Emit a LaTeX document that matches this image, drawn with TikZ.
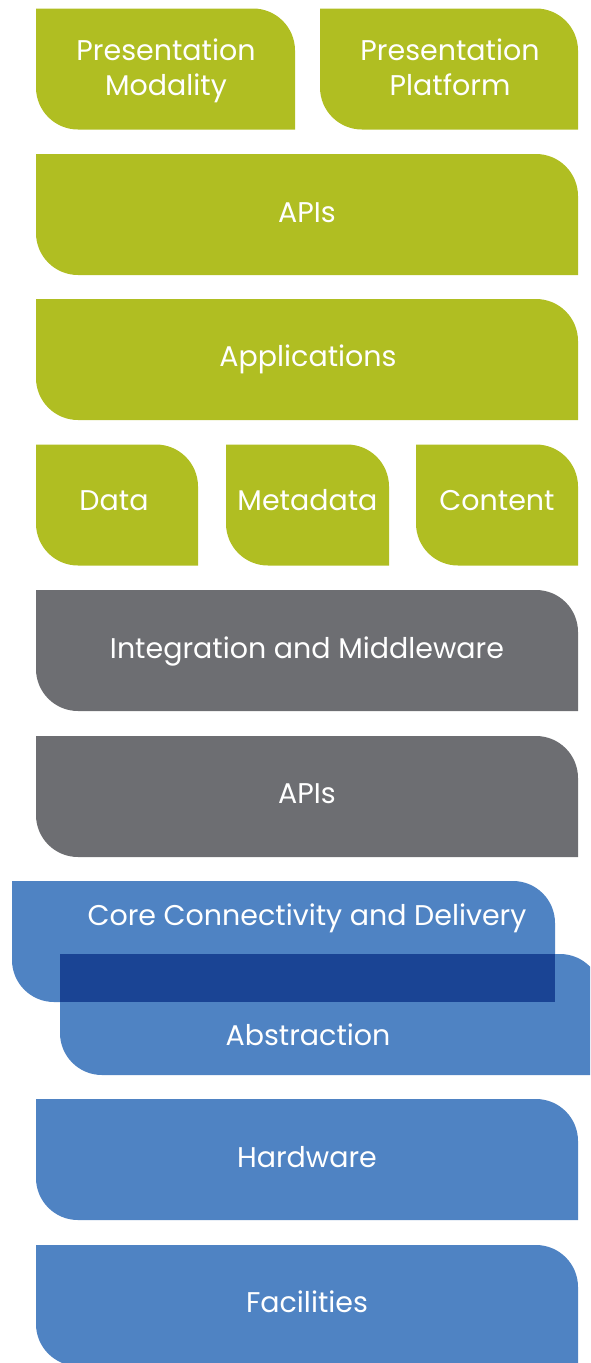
\documentclass[tikz,border=0pt]{standalone}
\usepackage{fontspec}
\setmainfont{Poppins}
\usepackage{tikz}

\definecolor{layergreen}{RGB}{176,190,34}
\definecolor{layergray}{RGB}{109,110,114}
\definecolor{layerblue}{RGB}{79,131,195}
\definecolor{layerdark}{RGB}{26,68,148}

\tikzset{
  layer/.style={shape=rectangle, inner sep=0pt, outer sep=0pt, minimum height=121pt,
    path picture={\fill[#1] (path picture bounding box.north west)
      -- ([xshift=-42pt]path picture bounding box.north east)
      arc[start angle=90, end angle=0, radius=42pt]
      -- (path picture bounding box.south east)
      -- ([xshift=42pt]path picture bounding box.south west)
      arc[start angle=270, end angle=180, radius=42pt] -- cycle;}},
  layertext/.style={anchor=base, align=center, text=white, inner sep=0pt,
    font=\fontsize{28.5}{35}\selectfont}
}

\begin{document}
\begin{tikzpicture}[x=1pt, y=-1pt]
    		\useasboundingbox (0,0) rectangle (590,1363);
    		\clip (0,0) rectangle (590,1363);
    		% Layers, top to bottom:
    		\node[layer=layergreen, minimum width=259pt](L1) at (165.5, 69){} node[layertext] at (166, 95){Presentation\\Modality};
    		\node[layer=layergreen, minimum width=258pt](L2) at (449, 69){} node[layertext] at (450, 95){Presentation\\Platform};
    		\node[layer=layergreen, minimum width=542pt](L3) at (307, 214.5){} node[layertext] at (307, 222){APIs};
    		\node[layer=layergreen, minimum width=542pt](L4) at (307, 359.5){} node[layertext] at (308, 366){Applications};
    		\node[layer=layergreen, minimum width=162pt](L5) at (117, 505){} node[layertext] at (114, 510){Data};
    		\node[layer=layergreen, minimum width=163pt](L6) at (307.5, 505){} node[layertext] at (307.5, 510){Metadata};
    		\node[layer=layergreen, minimum width=162pt](L7) at (497, 505){} node[layertext] at (497, 510){Content};
    		\node[layer=layergray, minimum width=542pt](L8) at (307, 650.5){} node[layertext] at (307, 658){Integration and Middleware};
    		\node[layer=layergray, minimum width=542pt](L9) at (307, 796.5){} node[layertext] at (307, 803){APIs};
    		\node[layer=layerblue, minimum width=543pt](L10) at (283.5, 941.5){} node[layertext] at (307, 925){Core Connectivity and Delivery};
    		\node[layer=layerblue, minimum width=542pt](L11) at (331, 1014.5){} node[layertext] at (308, 1045){Abstraction};
    		\fill[layerdark] (L11.north west) rectangle (L10.south east);
    		\node[layer=layerblue, minimum width=542pt](L12) at (307, 1159.5){} node[layertext] at (307, 1167){Hardware};
    		\node[layer=layerblue, minimum width=542pt](L13) at (307, 1305.5){} node[layertext] at (307, 1312){Facilities};
\end{tikzpicture}
\end{document}
